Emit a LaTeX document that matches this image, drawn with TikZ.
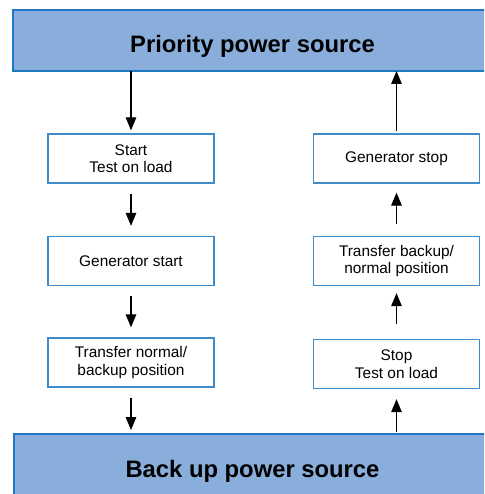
\documentclass[tikz,border=0pt]{standalone}
\usepackage{fontspec}
\setmainfont{Liberation Sans}
\usetikzlibrary{arrows.meta}
\definecolor{barfill}{HTML}{8AAEDB}
\definecolor{barline}{HTML}{1F78C2}
\definecolor{boxline}{HTML}{3E8CCB}
\begin{document}
\begin{tikzpicture}[x=1pt,y=1pt,
  bar/.style={draw=barline, line width=2.6pt, fill=barfill},
  bartext/.style={font=\fontsize{23.8}{26}\selectfont\bfseries, anchor=base, inner sep=0pt},
  stepbox/.style={draw=boxline, line width=1.3pt, fill=white, minimum width=166pt, minimum height=49pt,
    align=center, inner sep=0pt, font=\fontsize{15.4}{17.5}\selectfont},
  arr/.style={-{Triangle[width=10.5pt,length=13pt]}, line width=1.2pt, black}
]
\useasboundingbox (0,0) rectangle (484,-494);
\clip (0,0) rectangle (484,-494);
\fill[white] (0,0) rectangle (484,-494);

\draw[bar] (13,-10) rectangle (496,-71);
\coordinate (topS) at (0,-71);
\node[bartext] (toptext) at (252.5,-53) {Priority power source};

\draw[bar] (14,-434) rectangle (496,-510);
\coordinate (botN) at (0,-434);
\node[bartext] (bottext) at (252.5,-477) {Back up power source};

\node[stepbox] (b1) at (131,-158.5) {Start\\Test on load};
\node[stepbox] (b2) at (131,-261) {Generator start};
\node[stepbox] (b3) at (131,-362.5) {Transfer normal/\\backup position};

\node[stepbox] (r1) at (396.5,-158.5) {Generator stop};
\node[stepbox] (r2) at (396.5,-261) {Transfer backup/\\normal position};
\node[stepbox] (r3) at (396.5,-364) {Stop\\Test on load};

\draw[arr, shorten >=3pt] (topS -| b1.north) -- (b1.north);
\draw[arr, shorten <=10pt, shorten >=10pt] (b1) -- (b2);
\draw[arr, shorten <=10pt, shorten >=10pt] (b2) -- (b3);
\draw[arr, shorten <=10pt, shorten >=4pt] (b3.south) -- (botN -| b3.south);

\draw[arr, shorten <=2pt, shorten >=10pt] (botN -| r3.south) -- (r3.south);
\draw[arr, shorten <=15pt, shorten >=7pt] (r3.north) -- (r2.south);
\draw[arr, shorten <=12pt, shorten >=9pt] (r2.north) -- (r1.south);
\draw[arr, shorten <=2pt] (r1.north) -- (topS -| r1.north);
\end{tikzpicture}
\end{document}
